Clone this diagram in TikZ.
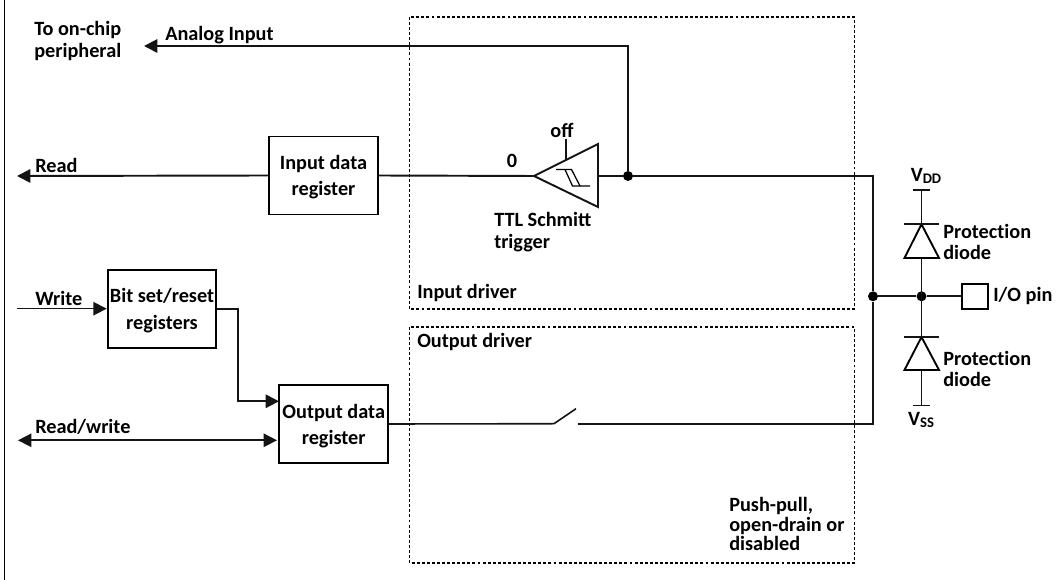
\documentclass[tikz,border=0pt]{standalone}
\usepackage{fontspec}
\setmainfont{Carlito}
\newfontfamily\noliga[RawFeature={-liga}]{Carlito}
\usetikzlibrary{arrows.meta}
\newcommand{\lowerline}{\rule{0pt}{13.5pt}}
\tikzset{
  x=0.75pt,y=-0.75pt,
  wire/.style={line width=1.45pt,black!92},
  thinwire/.style={line width=1.2pt,black!92},
  arrowwire/.style={wire,-{Triangle[length=10pt,width=10pt]}},
  regbox/.style={draw,line width=1.45pt,minimum width=81.5pt,minimum height=58.5pt,inner sep=0pt,align=center,font=\fontsize{15.2}{19.8}\selectfont\bfseries},
  lbl/.style={inner sep=0pt,align=left,anchor=west,font=\fontsize{15.2}{16.2}\selectfont\bfseries},
  region/.style={draw,line width=1.3pt,dash pattern=on 2.2pt off 1.6pt},
  dotn/.style={circle,fill=black,inner sep=0pt,minimum size=7.5pt},
  diodeshape/.style={draw,line width=1.4pt,fill=white,line join=miter},
}
\begin{document}
\begin{tikzpicture}
\useasboundingbox (0,0) rectangle (1061,580);
% frame
\coordinate (frameT) at (4.5,0);
\coordinate (frameB) at (4.5,580);
\draw[line width=1.3pt] (frameT) -- (frameB);
% driver regions
\draw[region] (409.5,17) rectangle (854.5,309);
\draw[region] (409.5,327) rectangle (854.5,563);
% register boxes
\node[regbox] (inreg) at (323.5,175.5) {\lowerline Input data\\register};
\node[regbox] (bitreg) at (162,308.7) {\lowerline Bit set/reset\\registers};
\node[regbox] (outreg) at (333.7,424) {\lowerline Output data\\register};
% pin
\node[draw,line width=1.4pt,minimum width=19pt,minimum height=19pt,inner sep=0pt] (pin) at (975,296.3) {};
% junctions
\node[dotn] (j1) at (628,176) {};
\node[dotn] (j2) at (873,296.3) {};
\node[dotn] (j3) at (921.5,296.3) {};
% free ends
\coordinate (readEnd) at (17,176);
\coordinate (anaEnd) at (144,46);
\coordinate (anaCorner) at (628,46);
\coordinate (writeStart) at (17,308.7);
\coordinate (rwEnd) at (18,440.3);
\coordinate (rwIn) at (277,440.3);
\coordinate (setIn) at (279,401.3);
\coordinate (setC1) at (238,308.7);
\coordinate (setC2) at (238,401.3);
\coordinate (ttip) at (534,176);
\coordinate (ttop) at (598,144);
\coordinate (tbot) at (598,207);
\coordinate (tback) at (598,176);
\coordinate (offTop) at (566,139);
\coordinate (offBot) at (566,160);
\coordinate (busT) at (873,176);
\coordinate (busB) at (873,423.7);
\coordinate (swA) at (554,423.7);
\coordinate (swB) at (576,408.7);
\coordinate (swC) at (578,423.7);
\coordinate (vddBar) at (921.5,190);
\coordinate (vssBar) at (921.5,405.7);
% connectors
\draw[arrowwire] (inreg.west) -- (readEnd);
\draw[wire] (inreg.east) -- (ttip);
\draw[wire] (tback) -- (j1) -- (busT) -- (j2) -- (busB) -- (swC);
\draw[arrowwire] (j1) -- (anaCorner) -- (anaEnd);
\draw[arrowwire,thinwire] (writeStart) -- (bitreg.west);
\draw[arrowwire] (bitreg.east) -- (setC1) -- (setC2) -- (setIn);
\draw[thinwire,{Triangle[length=10pt,width=10pt]}-{Triangle[length=10pt,width=10pt]}] (rwEnd) -- (rwIn);
\draw[thinwire] (outreg.east) -- (swA) -- (swB);
\draw[thinwire] (j2) -- (j3) -- (pin.west);
\draw[thinwire] (vddBar) -- (vssBar);
% schmitt trigger
\draw[wire,line join=miter,fill=white] (ttip) -- (ttop) -- (tbot) -- cycle;
\draw[wire] (offTop) -- (offBot);
\draw[line width=0.95pt] (556,169.5) -- (571.5,169.5) -- (580,186) -- (590,186);
\draw[line width=0.95pt] (565,169.5) -- (572.5,186) -- (580,186);
% rails and diodes
\draw[thinwire] (913,190) -- (930,190);
\draw[thinwire] (913,405.7) -- (930,405.7);
\draw[diodeshape] (921.5,224.3) -- (939,258) -- (904.5,258) -- cycle;
\draw[wire] (904,224.3) -- (939,224.3);
\draw[diodeshape] (921.5,337) -- (939,370) -- (904.5,370) -- cycle;
\draw[wire] (904,337) -- (939,337);
% labels
\node[lbl] (tToChip) at (34,41) {To on-chip\\peripheral};
\node[lbl] (tAnalog) at (165,35) {Analog Input};
\node[lbl] (tRead) at (35,165) {Read};
\node[lbl] (tWrite) at (35,298) {Write};
\node[lbl] (tRW) at (35,427) {Read/write};
\node[lbl,anchor=center] (tZero) at (512,161) {0};
\node[lbl,anchor=center] (tOff) at (562,130) {off};
\node[lbl] (tTTL) at (494,232) {TTL Schmitt\\trigger};
\node[lbl] (tInDrv) at (417,293) {Input driver};
\node[lbl] (tOutDrv) at (417,342) {Output driver};
\node[lbl,font=\fontsize{15.2}{14.4}\selectfont\bfseries] (tPush) at (729,524) {Push-pull,\\open-drain or\\disabled};
\node[lbl] (tD1) at (943,242) {\noliga\bfseries Protection\\diode};
\node[lbl] (tD2) at (943,369) {\noliga\bfseries Protection\\diode};
\node[lbl] (tPin) at (993,296) {I/O pin};
\node[lbl,anchor=center] (tVdd) at (926,176) {V\raisebox{-2pt}{\fontsize{11}{11}\selectfont DD}};
\node[lbl,anchor=center] (tVss) at (921,420) {V\raisebox{-2pt}{\fontsize{11}{11}\selectfont SS}};
\end{tikzpicture}
\end{document}
